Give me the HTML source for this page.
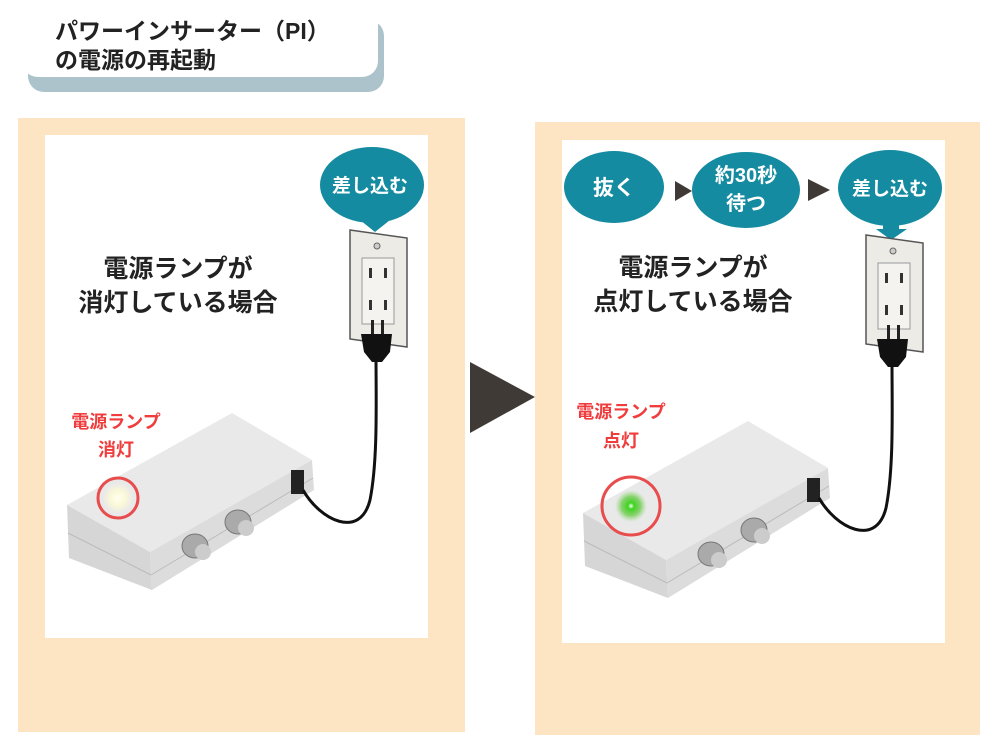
<!DOCTYPE html>
<html><head><meta charset="utf-8"><style>
body{margin:0;width:1000px;height:750px;background:#fff;overflow:hidden;font-family:"Liberation Sans","Noto Sans CJK JP",sans-serif}
svg text{font-family:"Liberation Sans","Noto Sans CJK JP",sans-serif;font-weight:bold}
</style></head><body>
<svg width="1000" height="750" viewBox="0 0 1000 750" xmlns="http://www.w3.org/2000/svg">
<defs>
<radialGradient id="wg"><stop offset="0" stop-color="#fffff0"/><stop offset=".5" stop-color="#fbf8d8"/><stop offset="1" stop-color="#fbf8d8" stop-opacity="0"/></radialGradient>
<radialGradient id="gg"><stop offset="0" stop-color="#f0fff0"/><stop offset=".2" stop-color="#3ed41e"/><stop offset=".6" stop-color="#5cc83a" stop-opacity=".7"/><stop offset="1" stop-color="#8fd870" stop-opacity="0"/></radialGradient>
<g id="dev">
<polygon points="67,505 232,413 312,460 150,552" fill="#e9e9e9"/>
<polygon points="67,505 150,552 152,590 69,558" fill="#d6d6d6"/>
<polygon points="150,552 312,460 314,490 152,590" fill="#dcdcdc"/>
<line x1="68" y1="533" x2="151" y2="575" stroke="#bbb"/>
<line x1="151" y1="575" x2="313" y2="478" stroke="#bbb"/>
<rect x="291" y="470" width="13" height="24" fill="#222"/>
<g fill="#aaa" stroke="#777"><ellipse cx="195" cy="546" rx="13" ry="12"/><ellipse cx="238" cy="522" rx="13" ry="12"/></g>
<g fill="#ccc"><ellipse cx="203" cy="552" rx="8" ry="8"/><ellipse cx="246" cy="528" rx="8" ry="8"/></g>
<path d="M303,490 C320,520 360,540 370,500 C378,460 376,400 376,355" fill="none" stroke="#111" stroke-width="3"/>
</g>
<g id="outlet">
<polygon points="350,230 407,238 407,347 350,339" fill="#ecebe6" stroke="#555" stroke-width="1.5"/>
<rect x="362" y="258" width="32" height="66" fill="#f4f3ef" stroke="#999"/>
<circle cx="377" cy="246" r="3" fill="#ccc" stroke="#666"/>
<g fill="#333"><rect x="369" y="268" width="3" height="10"/><rect x="384" y="268" width="3" height="10"/><rect x="369" y="300" width="3" height="10"/><rect x="384" y="300" width="3" height="10"/></g>
<rect x="371" y="320" width="3" height="14" fill="#222"/><rect x="381" y="320" width="3" height="14" fill="#222"/>
<path d="M361,334 L392,334 L390,352 L382,362 L372,362 L364,352 Z" fill="#111"/>
</g>
</defs>
<rect x="28" y="20" width="356" height="72" rx="16" fill="#adc3cc"/>
<rect x="22" y="0" width="356" height="77" rx="16" fill="#fff"/>
<text x="55" y="39" font-size="23" fill="#222">パワーインサーター（PI）</text>
<text x="55" y="68" font-size="23" fill="#222">の電源の再起動</text>
<rect x="18" y="118" width="447" height="614" fill="#fde4c2"/>
<rect x="45" y="135" width="383" height="503" fill="#fff"/>
<rect x="535" y="122" width="445" height="613" fill="#fde4c2"/>
<rect x="562" y="140" width="383" height="503" fill="#fff"/>
<polygon points="470,362 535,397 470,433" fill="#3f3a36"/>
<text x="178" y="277" font-size="25" text-anchor="middle" fill="#222">電源ランプが</text>
<text x="178" y="311" font-size="25" text-anchor="middle" fill="#222">消灯している場合</text>
<use href="#outlet"/>
<svg x="300" y="140" width="128" height="100" overflow="hidden"><ellipse cx="72" cy="45" rx="52" ry="38" fill="#148ba0"/></svg>
<polygon points="367,213 383,213 383,220 390,220 375,232 360,220 367,220" fill="#148ba0"/>
<text x="370" y="192" font-size="19" text-anchor="middle" fill="#fff" font-weight="normal">差し込む</text>
<use href="#dev"/>
<circle cx="118" cy="498" r="15" fill="url(#wg)"/>
<circle cx="118" cy="498" r="20" fill="none" stroke="#e84c4c" stroke-width="3"/>
<text x="116" y="428" font-size="18" text-anchor="middle" fill="#f03c3c">電源ランプ</text>
<text x="116" y="456" font-size="18" text-anchor="middle" fill="#f03c3c">消灯</text>
<ellipse cx="614" cy="187" rx="50" ry="36" fill="#148ba0"/>
<text x="614" y="195" font-size="21" text-anchor="middle" fill="#fff">抜く</text>
<polygon points="675,181 692,191 675,201" fill="#3f3a36"/>
<polygon points="808,179 830,190 808,201" fill="#3f3a36"/>
<ellipse cx="746" cy="190" rx="54" ry="38" fill="#148ba0"/>
<text x="746" y="182" font-size="20" text-anchor="middle" fill="#fff">約30秒</text>
<text x="746" y="210" font-size="20" text-anchor="middle" fill="#fff">待つ</text>
<svg x="820" y="140" width="125" height="100" overflow="hidden"><ellipse cx="70" cy="48" rx="52" ry="38" fill="#148ba0"/></svg>
<polygon points="883,224 899,224 899,229 907,229 891,240 876,229 883,229" fill="#148ba0"/>
<text x="890" y="195" font-size="19" text-anchor="middle" fill="#fff" font-weight="normal">差し込む</text>
<text x="693" y="276" font-size="25" text-anchor="middle" fill="#222">電源ランプが</text>
<text x="693" y="310" font-size="25" text-anchor="middle" fill="#222">点灯している場合</text>
<use href="#outlet" transform="translate(516,5)"/>
<use href="#dev" transform="translate(516,8)"/>
<circle cx="631" cy="506" r="16" fill="url(#gg)"/>
<circle cx="631" cy="506" r="29" fill="none" stroke="#e84c4c" stroke-width="3"/>
<text x="621" y="418" font-size="18" text-anchor="middle" fill="#f03c3c">電源ランプ</text>
<text x="621" y="447" font-size="18" text-anchor="middle" fill="#f03c3c">点灯</text>
</svg>
</body></html>
